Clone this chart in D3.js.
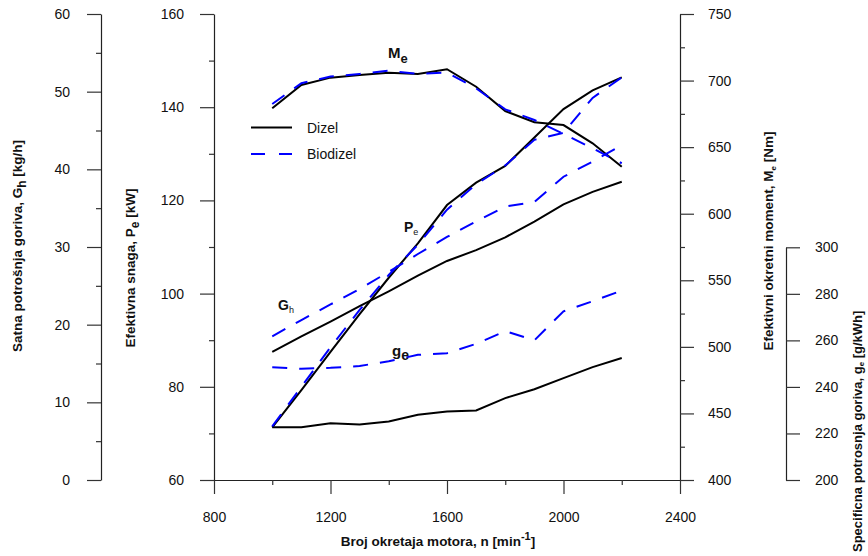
<!DOCTYPE html>
<html><head><meta charset="utf-8">
<script src="https://cdn.jsdelivr.net/npm/d3@7"></script>
<style>
body{margin:0;background:#fff}
svg{display:block}
text{font-family:"Liberation Sans",Arial,Helvetica,sans-serif;fill:#111}
.axis .domain{stroke:#222;stroke-width:1.2}
.axis line{stroke:#333;stroke-width:1.2}
.axis text{font-size:14px;fill:#111}
</style>
</head><body>
<svg id="c" width="868" height="556"></svg>
<script>
// ---- data ----
const rpm = [1000,1100,1200,1300,1400,1500,1600,1700,1800,1900,2000,2100,2200];
const peDizel = [71.3,79.3,87.5,95.6,103.4,110.8,119.0,123.8,127.4,133.5,139.6,143.6,146.4];
const peBio   = [71.5,80.0,88.5,96.5,104.0,110.5,118.0,123.5,127.5,133.0,134.5,142.0,146.4];
const ghDizel = [16.5,18.5,20.4,22.4,24.3,26.3,28.2,29.6,31.25,33.26,35.5,37.1,38.4];
const ghBio   = [18.5,20.6,22.6,24.6,26.8,29.1,31.3,33.3,35.2,35.8,39.05,41.0,43.1];
const geDizel = [222.7,222.7,224.4,223.8,225.1,228.0,229.4,229.9,235.2,239.0,243.8,248.5,252.4];
const geBio   = [248.5,247.8,248.2,249.0,251.0,253.8,254.5,258.5,264.0,260.0,272.5,276.8,281.4];
const meDizel = [679.2,696.7,702.2,704.2,705.9,705.0,708.5,695.4,677.1,668.7,666.6,652.9,635.3];
const meBio   = [682.4,698.0,703.0,705.0,707.4,705.0,706.0,694.2,678.4,670.4,659.9,649.1,637.9];

const xMajor = [800,1200,1600,2000,2400];
const xMinor = [1000,1400,1800,2200];
const pMajor = [60,80,100,120,140,160];
const pMinor = [70,90,110,130,150];
const gMajor = [0,10,20,30,40,50,60];
const gMinor = [5,15,25,35,45,55];
const mMajor = [400,450,500,550,600,650,700,750];
const mMinor = [425,475,525,575,625,675,725];
const geMajor = [200,220,240,260,280,300];
const seriesNames = ["Dizel","Biodizel"];

// ---- scales ----
const svg = d3.select("#c");
const x  = d3.scaleLinear().domain([800,2400]).range([214,680]);
const yP = d3.scaleLinear().domain([60,160]).range([480,14]);
const yG = d3.scaleLinear().domain([0,60]).range([480,14]);
const yM = d3.scaleLinear().domain([400,750]).range([480,14]);
const yg = d3.scaleLinear().domain([200,300]).range([480,247.3]);

function axis(gen, scale, majors, minors, tx, ty, pad){
  const a = svg.append("g").attr("class","axis").attr("transform",`translate(${tx},${ty})`);
  a.call(gen(scale).tickValues(majors).tickSize(14).tickSizeOuter(0).tickPadding(pad).tickFormat(d3.format("d")));
  if(minors){
    const b = svg.append("g").attr("class","axis").attr("transform",`translate(${tx},${ty})`);
    b.call(gen(scale).tickValues(minors).tickSize(5).tickSizeOuter(0).tickFormat(""));
    b.select(".domain").remove();
  }
  return a;
}
axis(d3.axisBottom, x, xMajor, xMinor, 0, 480, 18);
axis(d3.axisLeft, yP, pMajor, pMinor, 214, 0, 16);
axis(d3.axisLeft, yG, gMajor, gMinor, 101, 0, 17);
axis(d3.axisRight, yM, mMajor, mMinor, 680, 0, 14);
axis(d3.axisRight, yg, geMajor, null, 786, 0, 15);

// ---- lines ----
function draw(vals, yScale, dashed){
  const line = d3.line().x((d,i)=>x(rpm[i])).y(d=>yScale(d));
  svg.append("path").datum(vals).attr("d",line)
    .attr("fill","none")
    .attr("stroke", dashed ? "#0000ff" : "#000")
    .attr("stroke-width",2)
    .attr("stroke-dasharray", dashed ? "15,12" : null);
}
draw(meDizel,yM,false); draw(peDizel,yP,false); draw(ghDizel,yG,false); draw(geDizel,yg,false);
draw(meBio,yM,true); draw(peBio,yP,true); draw(ghBio,yG,true); draw(geBio,yg,true);

// ---- legend ----
seriesNames.forEach((n,i)=>{
  const yy = 127.5 + i*26.5;
  svg.append("line").attr("x1",251).attr("x2",292).attr("y1",yy).attr("y2",yy)
    .attr("stroke", i ? "#0000ff" : "#000").attr("stroke-width",2)
    .attr("stroke-dasharray", i ? "14,14" : null);
  svg.append("text").attr("x",307).attr("y",yy+5).attr("font-size",14).text(n);
});

// ---- curve labels ----
function lab(xx, yy, main, sub, mainSize, subSize, subBold, subDy){
  const t = svg.append("text").attr("x",xx).attr("y",yy).attr("font-weight","bold").attr("font-size",mainSize);
  t.append("tspan").text(main);
  t.append("tspan").attr("dy",subDy).attr("font-size",subSize).attr("font-weight",subBold?"bold":"normal").text(sub);
}
lab(388,58,"M","e",15,13,true,5);
lab(404,232,"P","e",14,9,false,3);
lab(278,310,"G","h",14,9,false,3);
lab(392,356,"g","e",15,14,true,4);

// ---- axis titles ----
function vtitle(xx, yy, parts, anchor, size){
  const t = svg.append("text").attr("transform",`translate(${xx},${yy}) rotate(-90)`)
    .attr("text-anchor",anchor||"middle").attr("font-weight","bold").attr("font-size",size||13.5);
  parts.forEach(p=>{
    const s = t.append("tspan").text(p[0]);
    if(p[1]) s.attr("font-size",p[1]);
    if(p[2]) s.attr("dy",p[2]);
  });
}
vtitle(22,246,[["Satna potrošnja goriva, G"],["h",12,4],[" [kg/h]",null,-4]]);
vtitle(135,268,[["Efektivna snaga, P"],["e",12,4],[" [kW]",null,-4]]);
vtitle(773,241,[["Efektivni okretni moment, M"],["e",8,3],[" [Nm]",null,-3]]);
vtitle(862,552,[["Specificna potrosnja goriva, g"],["e",8,2],[" [g/kWh]",null,-2]],"start",13);

const xt = svg.append("text").attr("x",438).attr("y",546).attr("text-anchor","middle")
  .attr("font-weight","bold").attr("font-size",13.5);
xt.append("tspan").text("Broj okretaja motora, n [min");
xt.append("tspan").attr("dy",-6).attr("font-size",11).text("-1");
xt.append("tspan").attr("dy",6).text("]");
</script>
</body></html>
